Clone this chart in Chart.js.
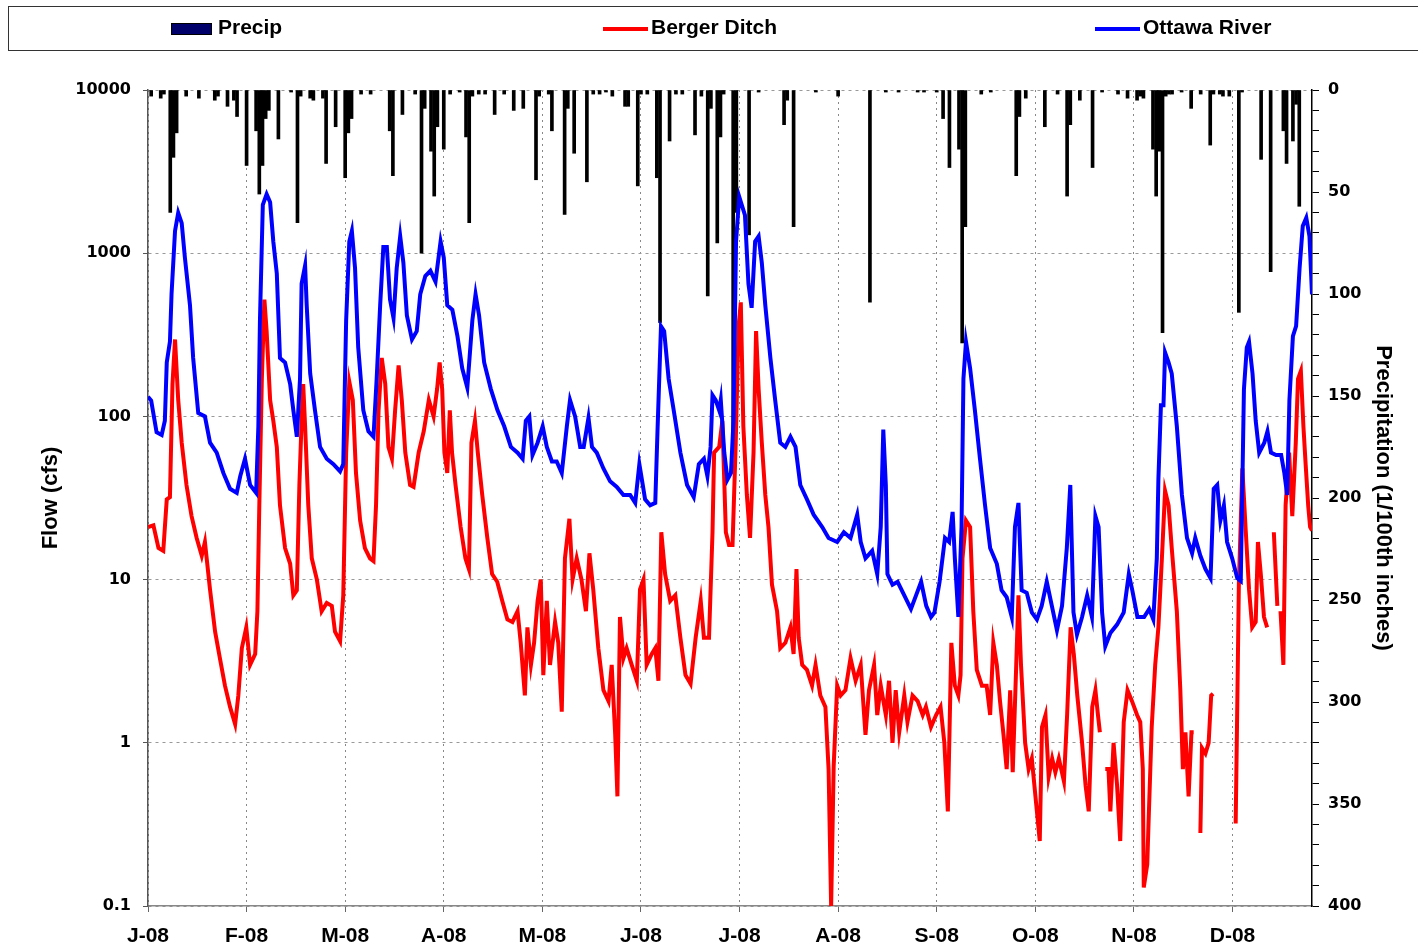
<!DOCTYPE html>
<html>
<head>
<meta charset="utf-8">
<title>Berger Ditch / Ottawa River flow and precipitation 2008</title>
<script src="https://cdn.jsdelivr.net/npm/chart.js@4.4.1/dist/chart.umd.min.js"></script>
<style>
  body { margin: 0; background: #fff; }
  #wrap { position: relative; width: 1418px; height: 947px; overflow: hidden; }
  #chart { position: absolute; left: 0; top: 0; }
  #legend { position: absolute; left: 8px; top: 6px; width: 1420px; height: 43px; border: 1px solid #333; }
  .lbl { position: absolute; top: 15px; font: bold 21px "Liberation Sans", Arial, sans-serif; color: #000; line-height: 24px; }
  .sw { position: absolute; }
</style>
</head>
<body>
<div id="wrap">
  <canvas id="chart" width="1418" height="947"></canvas>
  <div id="legend"></div>
  <div class="sw" style="left:171px;top:23px;width:41px;height:12px;background:#00006b;border:1px solid #000;box-sizing:border-box;"></div>
  <div class="lbl" style="left:218px;">Precip</div>
  <div class="sw" style="left:603px;top:27px;width:45px;height:4px;background:#ff0000;"></div>
  <div class="lbl" style="left:651px;">Berger Ditch</div>
  <div class="sw" style="left:1095px;top:27px;width:45px;height:4px;background:#0000ff;"></div>
  <div class="lbl" style="left:1143px;">Ottawa River</div>
</div>
<script>
// x = day of 2008 (0 = Jan 1), y = value
const monthLabels = ["J-08", "F-08", "M-08", "A-08", "M-08", "J-08", "J-08", "A-08", "S-08", "O-08", "N-08", "D-08"];
const monthTicks = [0, 31, 62, 93, 124, 155, 186, 217, 248, 279, 310, 341];
const flowTicks = [0.1, 1, 10, 100, 1000, 10000];

// Ottawa River flow (cfs)
const ottawaRiver = [
  [0,132],[1,125],[2.7,80],[4.3,77],[5.3,94],[5.9,214],[6.9,287],[7.4,560],[8.5,1370],[9.5,1770],
  [10.6,1530],[11.6,940],[13.2,480],[14.2,228],[15.8,105],[17.9,100],[19.5,69],[21.6,60],[23.7,45],[25.8,36],
  [27.9,34],[29,43],[30.5,55],[32.1,38],[34,34],[34.7,87],[35.2,387],[36.1,1980],[37.3,2300],[38.4,2050],
  [39.4,1180],[40.5,750],[41.5,228],[43.1,214],[44.7,158],[45.7,109],[46.8,75],[47.8,170],[48.3,650],[49.4,840],
  [49.9,480],[51,183],[52.5,109],[54.1,65],[56.2,55],[58.3,51],[60.4,46],[61.4,51],[62.3,386],[63.3,1180],
  [64.1,1370],[65.1,810],[66.1,265],[67.7,109],[69.3,81],[70.9,75],[71.9,170],[73,480],[74,1090],[75.1,1090],
  [76.1,520],[77.2,400],[78.2,810],[79.3,1270],[80.3,875],[81.4,415],[83,296],[84.5,333],[85.6,560],[87.2,725],
  [88.8,780],[90.4,670],[92,1180],[93,940],[94.1,480],[95.7,450],[97.3,310],[98.8,197],[100.4,150],[102,390],
  [103,560],[104.1,415],[105.7,214],[107.8,147],[109.9,109],[112,87],[114.1,65],[116.2,60],[117.8,55],[118.8,94],
  [119.9,100],[120.9,58],[122.5,69],[124.1,87],[125.4,65],[127,53],[128.5,53],[130.1,45],[131.7,87],[132.7,126],
  [134.3,100],[135.9,65],[137,65],[138.5,98],[139.6,65],[141.1,60],[143.2,48],[145.3,40],[147.4,37],[149.5,33],
  [151.6,33],[153.2,29.5],[154.5,51],[155.3,41],[156.3,31],[157.9,28.5],[159.5,29.5],[160.2,81],[161.3,357],[162.3,333],
  [163.7,170],[165.3,109],[167.4,60],[169.5,38],[171.6,32],[173.2,51],[174.8,55],[175.9,43],[176.9,65],[177.5,135],
  [178.5,126],[179.6,109],[180.1,126],[181.2,60],[182.2,41],[183.3,45],[184.1,94],[184.9,1180],[185.9,2220],[187.7,1710],
  [188.8,650],[189.8,463],[190.9,1180],[192,1270],[193,875],[194.1,480],[195.7,228],[197.2,126],[198.8,69],[200.4,65],
  [202,75],[203.6,65],[205.1,38],[207.2,31],[209.3,25],[212,21],[214,18],[216.7,17],[218.8,19.5],[220.9,18],
  [223,25],[224.1,17],[225.6,13.5],[227.7,15],[229.3,10.8],[230.4,21],[231.2,83],[232,38],[232.5,10.8],[234.1,9.3],
  [235.7,9.7],[237.8,8],[239.9,6.6],[241.5,8],[243.1,9.7],[244.7,6.9],[246.2,5.9],[247.3,6.3],[248.9,9.7],[250.6,18],
  [251.9,17],[253,26],[253.7,13.5],[254.8,5.9],[255.8,21],[256.4,170],[257.2,287],[258.5,197],[260,109],[261.6,55],
  [263.2,28.5],[264.8,15.6],[266.9,12.5],[268.4,8.6],[270,7.8],[271.6,5.9],[272.6,21],[273.7,29.5],[274.7,8.6],[276.3,8.3],
  [277.9,6.3],[279.5,5.7],[281,6.9],[282.6,9.7],[284.2,6.9],[285.8,4.9],[287.4,6.9],[288.9,15.6],[290,38],[291,6.3],
  [292.1,4.6],[293.7,5.9],[295.3,8],[296.8,5.9],[297.9,24.5],[298.9,21],[300,6.3],[301,3.9],[302.6,4.7],[304.7,5.3],
  [306.8,6.3],[308.4,10.8],[309.5,8.6],[311.1,5.9],[313.2,5.9],[314.8,6.6],[316.1,5.7],[317.2,13.5],[317.7,41],[318.5,117],
  [319.3,117],[319.8,246],[320.9,214],[321.9,183],[323.5,87],[325.1,33],[326.7,18],[328.3,14.5],[329.3,18],[330.9,14],
  [332.5,11.6],[334.1,10.2],[335.1,36],[336.2,38],[337.2,23],[338.3,28.5],[339.3,17],[340.9,13.5],[342.5,10.2],[343.6,9.8],
  [344.6,147],[345.5,265],[346.2,287],[347.3,183],[348.3,94],[349.4,60],[351,69],[352,81],[353.1,60],[354.7,58],
  [356.3,58],[357.3,45],[358.2,33],[358.9,126],[360,310],[361,357],[362.1,810],[363.1,1470],[364.2,1650],[365.2,1270],
  [366,560]
];

// Berger Ditch flow (cfs), null = no record
const bergerDitch = [
  [0,21],[1.7,21.5],[3.3,15.6],[4.8,15],[5.9,31],[6.9,32],[7.7,158],[8.5,296],[9.5,126],[10.6,69],
  [12.1,38],[13.7,24.5],[15.3,18],[16.9,14],[17.9,17],[19.5,8.7],[21.1,4.8],[22.6,3.3],[24.2,2.24],[25.8,1.66],
  [27.4,1.3],[28.4,1.95],[29.5,3.8],[30.9,5.1],[32.1,3.0],[33.7,3.5],[34.4,6.4],[35,28.5],[35.8,170],[36.6,520],
  [37.3,333],[38.4,126],[39.4,94],[40.5,65],[41.5,28.5],[43.1,15.6],[44.7,12.5],[45.7,8],[46.8,8.6],[47.6,38],
  [48.3,94],[48.8,158],[49.4,87],[50.4,28.5],[51.5,13.5],[53.1,10],[54.6,6.4],[56.2,7.2],[57.8,6.9],[58.8,4.8],
  [60.4,4.2],[61.4,8],[62.3,60],[63.3,163],[64.4,126],[65.4,45],[66.7,23],[68.2,15.6],[69.8,13.5],[70.9,13],
  [71.7,28.5],[72.5,109],[73.5,228],[74.6,158],[75.6,65],[76.7,55],[77.7,109],[78.8,205],[79.8,126],[80.9,60],
  [82.4,38],[83.5,37],[85.1,60],[86.7,81],[88.3,126],[89.8,100],[90.9,147],[91.7,214],[92.5,147],[93.2,60],
  [94.1,45],[94.9,109],[95.6,60],[96.7,38],[98.3,21],[99.8,13.5],[100.9,11.6],[101.7,69],[102.8,94],[103.7,60],
  [105.1,33],[106.7,18],[108.2,10.8],[109.8,9.7],[111.4,7.4],[113,5.7],[114.6,5.5],[116.2,6.4],[117.2,4.1],[118.5,1.95],
  [119.3,5.1],[120.4,3.0],[121.4,4.1],[122.5,7.4],[123.5,10],[124.3,2.6],[125.4,7.4],[126.4,3.0],[128,5.5],[129,4.1],
  [130.1,1.55],[131.1,13.5],[132.5,23.6],[133.5,10],[134.8,13.5],[136.3,10],[137.7,6.4],[138.8,14.5],[140,8.7],[141.6,3.8],
  [143.2,2.1],[144.8,1.8],[145.8,3],[146.9,1.12],[147.6,0.47],[148.4,5.9],[149.5,3.3],[150.5,3.8],[152.1,3],[153.7,2.4],
  [154.7,8.7],[155.8,10],[156.8,3],[158.4,3.5],[159.5,3.8],[160.5,2.4],[161.4,19.5],[162.6,10.8],[164.2,7.4],[165.8,8],
  [167.4,4.4],[169,2.6],[170.6,2.3],[172.2,4.4],[173.8,7.4],[174.8,4.4],[176.4,4.4],[177.5,19.5],[178,60],[179.6,65],
  [180.6,94],[181.7,19.5],[182.7,16.3],[183.8,16.3],[184.8,69],[185.7,357],[186.4,500],[187.2,87],[188.3,33],[189.3,18],
  [190.4,60],[191.2,333],[192,147],[193,69],[194.1,33],[195.1,21],[196.2,9.3],[197.8,6.4],[198.8,3.8],[200.4,4.1],
  [202,5.1],[203,3.5],[203.9,11.6],[204.6,4.4],[205.7,3],[207.2,2.8],[208.8,2.24],[209.9,3],[211.4,1.95],[213,1.66],
  [214,0.69],[214.8,0.1],[215.6,0.72],[216.7,2.24],[217.8,1.95],[219.3,2.1],[220.9,3.3],[222.5,2.4],[224.1,3],[225.6,1.12],
  [226.7,2.1],[228.3,3],[229.3,1.48],[230.4,2.24],[232,1.48],[233,2.4],[234.1,1.0],[235.1,2.1],[236.2,1.16],[237.8,1.95],
  [238.8,1.34],[240.4,1.95],[242,1.8],[243.6,1.48],[244.6,1.66],[246.2,1.25],[247.8,1.48],[249.2,1.66],[250.4,1.0],[251.5,0.38],
  [252.6,4.1],[253.7,2.24],[254.8,1.95],[255.5,2.6],[256.1,13.5],[257.2,23],[258.5,21],[259.5,6.4],[260.6,2.8],[262.2,2.24],
  [263.7,2.24],[264.8,1.48],[265.8,4.1],[266.9,3],[267.9,1.8],[269,1.12],[270,0.69],[271.1,2.1],[271.9,0.66],[273,3],
  [273.7,8],[274.5,3],[275.8,1.0],[276.9,0.69],[277.9,0.8],[279.5,0.38],[280.4,0.25],[281.1,1.25],[282.2,1.48],[283.2,0.62],
  [284.3,0.8],[285.3,0.66],[286.4,0.8],[288,0.58],[289,1.48],[290.1,5.1],[291.1,3.5],[292.2,1.95],[293.7,1.0],[294.8,0.55],
  [295.8,0.38],[296.9,1.66],[297.9,2.1],[298.7,1.48],[299.3,1.16],[300,null],[301,0.69],[302,0.69],[302.6,0.38],[303.6,1.0],
  [304.7,0.55],[305.7,0.25],[306.8,1.34],[308,2.1],[309.4,1.8],[311,1.48],[312,1.34],[312.8,0.69],[313.1,0.13],[314.2,0.18],
  [314.6,0.32],[315.6,1.25],[316.7,3.0],[317.7,5.1],[318.8,13.5],[319.8,35],[320.9,28.5],[321.9,15.6],[323.5,6.4],[324.6,2.1],
  [325.4,0.69],[326.2,1.16],[327.2,0.47],[328.1,1.16],[328.8,1.16],[330,null],[330.9,0.28],[331.4,0.93],[332.5,0.86],[333.5,1.0],
  [334.3,1.95],[334.9,2.0],[338,null],[342,0.32],[342.5,1.66],[343,9.3],[344.1,48],[345.1,21],[346.2,8.7],[347.2,5.1],
  [348.3,5.5],[349,17],[349.9,10.8],[350.9,5.9],[351.9,5.1],[353,null],[354,19.5],[355.1,6.9],[355.6,null],[356.1,6.4],
  [357,3.0],[357.7,28.5],[358.8,60],[359.8,24.5],[360.9,69],[361.6,170],[362.5,190],[363.3,87],[364,51],[364.8,28.5],
  [365.4,21],[366,20]
];

// daily precipitation (1/100th inches), only rain days
const precip = [
  [1,3],[4,4],[5,2],[7,60],[8,33],[9,21],[12,3],[16,4],[21,5],[22,3],[25,8],[27,5],[28,13],[31,37],
  [34,20],[35,51],[36,37],[37,14],[38,10],[41,24],[45,1],[47,65],[48,3],[51,4],[52,5],[55,4],[56,36],[59,18],
  [62,43],[63,21],[64,14],[67,2],[70,2],[76,20],[77,42],[80,12],[84,2],[86,80],[87,9],[89,30],[90,52],[91,18],
  [93,29],[95,2],[98,1],[100,23],[101,65],[102,3],[104,2],[106,2],[109,12],[112,2],[115,10],[118,9],[122,44],[123,3],
  [126,2],[127,20],[131,61],[132,9],[134,31],[138,45],[140,2],[142,2],[144,1],[146,3],[150,8],[151,8],[154,47],[155,2],
  [157,2],[160,43],[161,114],[164,25],[166,2],[168,2],[172,22],[174,3],[176,101],[177,9],[179,75],[180,23],[181,2],
  [184,170],[185,60],[189,71],[192,1],[200,17],[201,5],[203,67],[210,1],[217,3],[227,104],[232,1],[236,1],[242,1],
  [244,1],[248,1],[250,14],[252,38],[255,29],[256,124],[257,67],[262,2],[265,1],[273,42],[274,13],[276,4],[282,18],
  [286,2],[289,52],[290,17],[293,5],[297,38],[300,1],[305,2],[308,4],[311,5],[312,3],[313,4],[316,29],[317,52],
  [318,30],[319,119],[320,3],[321,2],[322,2],[325,1],[328,9],[331,2],[334,27],[335,2],[337,2],[338,3],[340,3],
  [343,109],[344,1],[350,34],[353,89],[357,20],[358,36],[360,25],[361,7],[362,57]
];

const toXY = (pairs) => pairs.map(p => ({ x: p[0], y: p[1] }));

const ctx = document.getElementById("chart").getContext("2d");

new Chart(ctx, {
  type: "line",
  data: {
    datasets: [
      {
        label: "Ottawa River",
        data: toXY(ottawaRiver),
        yAxisID: "y",
        borderColor: "#0000ff",
        borderWidth: 4,
        pointRadius: 0,
        tension: 0,
        order: 1
      },
      {
        label: "Berger Ditch",
        data: toXY(bergerDitch),
        yAxisID: "y",
        borderColor: "#ff0000",
        borderWidth: 4,
        pointRadius: 0,
        tension: 0,
        spanGaps: false,
        order: 2
      },
      {
        type: "bar",
        label: "Precip",
        data: toXY(precip),
        yAxisID: "yP",
        backgroundColor: "#000",
        borderWidth: 0,
        barThickness: 3,
        order: 3
      }
    ]
  },
  options: {
    responsive: false,
    animation: false,
    layout: { padding: { top: 90, left: 0, right: 0, bottom: 0 } },
    plugins: {
      legend: { display: false },
      tooltip: { enabled: false }
    },
    scales: {
      x: {
        type: "linear",
        position: "bottom",
        min: 0,
        max: 366,
        offset: false,
        afterBuildTicks: (axis) => { axis.ticks = monthTicks.map(v => ({ value: v })); },
        afterFit: (axis) => { axis.height = 41; },
        ticks: {
          autoSkip: false,
          maxRotation: 0,
          padding: 12,
          color: "#000",
          font: { family: "'Liberation Sans Narrow', 'Liberation Sans', Arial", size: 21, weight: "bold" },
          callback: (v) => monthLabels[monthTicks.indexOf(v)]
        },
        grid: { color: "#888", lineWidth: 1, tickLength: 6, tickColor: "#666", tickBorderDash: [], offset: false },
        border: { color: "#888", width: 1.5, dash: [2, 4] }
      },
      y: {
        type: "logarithmic",
        position: "left",
        min: 0.1,
        max: 10000,
        afterBuildTicks: (axis) => { axis.ticks = flowTicks.map(v => ({ value: v })); },
        afterFit: (axis) => { axis.width = 148; },
        ticks: {
          padding: 12,
          color: "#000",
          font: { family: "'DejaVu Sans'", size: 16, weight: "bold" },
          callback: (v) => String(v)
        },
        grid: { color: "#999", lineWidth: 1, tickLength: 5, tickColor: "#555", tickBorderDash: [] },
        border: { color: "#555", width: 1.5, dash: [3, 4] },
        title: {
          display: true,
          text: "Flow (cfs)",
          color: "#000",
          font: { family: "'Liberation Sans', Arial", size: 22, weight: "bold" },
          padding: { top: 38, bottom: 0 }
        }
      },
      yP: {
        type: "linear",
        position: "right",
        reverse: true,
        min: 0,
        max: 400,
        afterFit: (axis) => { axis.width = 106; },
        ticks: {
          stepSize: 10,
          autoSkip: false,
          padding: 9,
          color: "#000",
          font: { family: "'DejaVu Sans'", size: 16, weight: "bold" },
          callback: (v) => (v % 50 === 0 ? String(v) : "")
        },
        grid: { drawOnChartArea: false, color: "#000", tickLength: 7, tickBorderDash: [] },
        border: { color: "#000", width: 1.5 },
        title: {
          display: true,
          text: "Precipitation (1/100th inches)",
          color: "#000",
          font: { family: "'Liberation Sans', Arial", size: 22, weight: "bold" },
          padding: { top: 22, bottom: 0 }
        }
      }
    }
  }
});
</script>
</body>
</html>
